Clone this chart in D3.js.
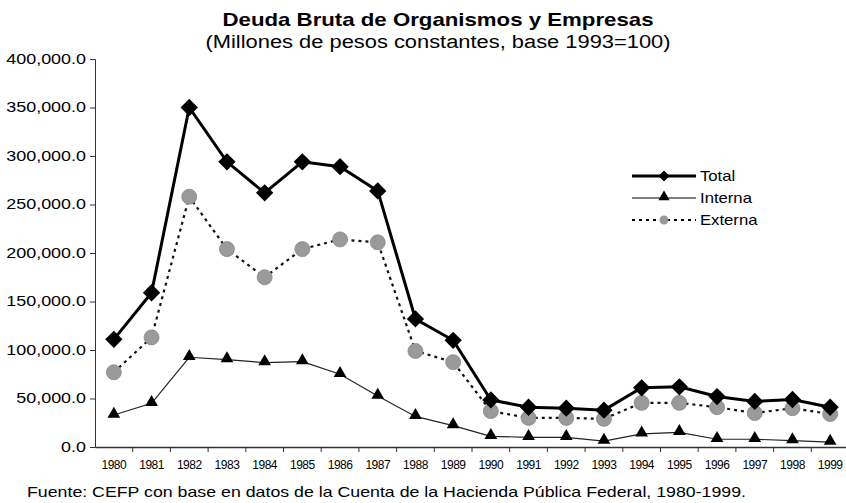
<!DOCTYPE html>
<html>
<head>
<meta charset="utf-8">
<script src="https://cdn.jsdelivr.net/npm/d3@7"></script>
<style>
  body { margin: 0; background: #fff; }
  svg { display: block; font-family: "Liberation Sans", Arial, sans-serif; }
</style>
</head>
<body>
<div id="chart"></div>
<script>
const WIDTH = 846; // page width
const HEIGHT = 503; // page height

// data
const years = ["1980","1981","1982","1983","1984","1985","1986","1987","1988","1989",
               "1990","1991","1992","1993","1994","1995","1996","1997","1998","1999"];
const total = [111000,159000,350000,294000,262000,294000,289000,264000,132000,110000,
               48500,41000,40000,38000,61000,62000,52000,47000,49000,41000];
const interna = [33000,45000,92500,90000,87000,88000,75000,52500,31500,22000,
                 11000,10000,10000,6000,13500,15000,8000,8000,6500,5000];
const externa = [77000,113000,258000,204000,175000,204000,214000,211000,99000,87500,
                 37000,30000,30000,29000,45500,45500,41000,35000,40000,34000];
const yTicks = [0,50000,100000,150000,200000,250000,300000,350000,400000];

const margin = {top: 59, right: -3, bottom: 56, left: 95};
const w = WIDTH - margin.left - margin.right;
const h = HEIGHT - margin.top - margin.bottom;

// the scanned original is stretched sideways, so widen text to fit
function stretch(sel, k) {
  sel.each(function() {
    const len = this.getComputedTextLength();
    d3.select(this).attr("textLength", len * k).attr("lengthAdjust", "spacingAndGlyphs");
  });
}

const svg = d3.select("#chart").append("svg")
  .attr("width", WIDTH)
  .attr("height", HEIGHT);

const g = svg.append("g").attr("transform", `translate(${margin.left},${margin.top})`);

const x = d3.scaleBand().domain(years).range([0, w]);
const y = d3.scaleLinear().domain([0, 400000]).range([h, 0]);
const cx = d => x(d) + x.bandwidth() / 2;

// titles
svg.append("text")
  .attr("x", 438).attr("y", 26)
  .attr("text-anchor", "middle")
  .attr("textLength", 431).attr("lengthAdjust", "spacingAndGlyphs")
  .style("font-size", "19px").style("font-weight", "bold")
  .text("Deuda Bruta de Organismos y Empresas");
svg.append("text")
  .attr("x", 438).attr("y", 48)
  .attr("text-anchor", "middle")
  .attr("textLength", 465).attr("lengthAdjust", "spacingAndGlyphs")
  .style("font-size", "18px")
  .text("(Millones de pesos constantes, base 1993=100)");

// y axis
const fmt = d3.format(",.1f");
const yAxis = g.append("g")
  .call(d3.axisLeft(y).tickValues(yTicks).tickFormat(fmt).tickSize(5).tickPadding(4));
yAxis.selectAll("text").style("font-size", "14px").attr("fill", "#000");
stretch(yAxis.selectAll("text"), 1.28);
yAxis.select(".domain").attr("stroke", "#333");
yAxis.selectAll(".tick line").attr("stroke", "#333");

// x axis, ticks at category borders
const xAxis = g.append("g").attr("transform", `translate(0,${h})`)
  .call(d3.axisBottom(x).tickSize(0).tickPadding(13).tickSizeOuter(0));
xAxis.selectAll("text")
  .style("font-size", "12px").style("letter-spacing", "-0.5px").attr("fill", "#000");
xAxis.select(".domain").attr("stroke", "#333").attr("stroke-width", 1.5);
xAxis.selectAll(".border")
  .data(years.slice(1))
  .enter().append("line")
  .attr("x1", d => x(d)).attr("x2", d => x(d))
  .attr("y1", 0).attr("y2", 5)
  .attr("stroke", "#333");

const line = d3.line().x((d, i) => cx(years[i])).y(d => y(d));

// Interna
g.append("path").datum(interna)
  .attr("d", line).attr("fill", "none")
  .attr("stroke", "#222").attr("stroke-width", 1.2);
// Externa
g.append("path").datum(externa)
  .attr("d", line).attr("fill", "none")
  .attr("stroke", "#111").attr("stroke-width", 2.2).attr("stroke-dasharray", "3,4");
// Total
g.append("path").datum(total)
  .attr("d", line).attr("fill", "none")
  .attr("stroke", "#000").attr("stroke-width", 3);

const tri = d3.symbol().type(d3.symbolTriangle).size(70);
const dia = d3.symbol().type(d3.symbolSquare).size(150);

g.selectAll(".tri").data(interna).enter().append("path")
  .attr("d", tri)
  .attr("transform", (d, i) => `translate(${cx(years[i])},${y(d) - 1})`)
  .attr("fill", "#000");

g.selectAll(".ext").data(externa).enter().append("circle")
  .attr("cx", (d, i) => cx(years[i])).attr("cy", d => y(d))
  .attr("r", 7.5).attr("fill", "#9a9a9a").attr("stroke", "#888").attr("stroke-width", 0.8);

g.selectAll(".dia").data(total).enter().append("path")
  .attr("d", dia)
  .attr("transform", (d, i) => `translate(${cx(years[i])},${y(d)}) rotate(45)`)
  .attr("fill", "#000");

// legend
const legend = svg.append("g").attr("transform", "translate(632,176)");
const items = [
  {name: "Total", width: 3, dash: null, mark: "dia"},
  {name: "Interna", width: 1.2, dash: null, mark: "tri"},
  {name: "Externa", width: 2, dash: "3,4", mark: "circ"}
];
items.forEach((it, i) => {
  const row = legend.append("g").attr("transform", `translate(0,${i * 22})`);
  row.append("line").attr("x1", 0).attr("x2", 64).attr("y1", 0).attr("y2", 0)
    .attr("stroke", "#000").attr("stroke-width", it.width)
    .attr("stroke-dasharray", it.dash);
  if (it.mark === "dia") {
    row.append("path").attr("d", d3.symbol().type(d3.symbolSquare).size(60))
      .attr("transform", "translate(32,0) rotate(45)").attr("fill", "#000");
  } else if (it.mark === "tri") {
    row.append("path").attr("d", d3.symbol().type(d3.symbolTriangle).size(55))
      .attr("transform", "translate(32,-1)").attr("fill", "#000");
  } else {
    row.append("circle").attr("cx", 32).attr("cy", 0).attr("r", 4.5).attr("fill", "#9a9a9a");
  }
  const t = row.append("text").attr("x", 68).attr("y", 5)
    .style("font-size", "14.5px").text(it.name);
  stretch(t, 1.15);
});

// source note
svg.append("text")
  .attr("x", 27).attr("y", 497)
  .attr("textLength", 719).attr("lengthAdjust", "spacingAndGlyphs")
  .style("font-size", "14.5px")
  .text("Fuente: CEFP con base en datos de la Cuenta de la Hacienda Pública Federal, 1980-1999.");
</script>
</body>
</html>
